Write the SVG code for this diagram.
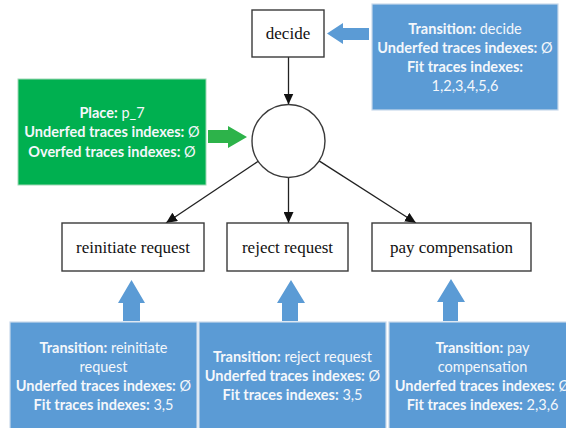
<svg xmlns="http://www.w3.org/2000/svg" width="566" height="428" viewBox="0 0 566 428">
<defs>
<style>
.bg{fill:#ffffff}
.tr{fill:#ffffff;stroke:#3a3a3a;stroke-width:1.4}
.pl{fill:#ffffff;stroke:#3a3a3a;stroke-width:1.4}
.gt{font-family:"Liberation Serif","Times New Roman",serif;font-size:17px;fill:#111;text-anchor:middle}
.edge{stroke:#222;stroke-width:1.3;fill:none}
.ah{fill:#111}
.bbox{fill:#5B9BD5;stroke:#c9d9ec;stroke-width:1.2}
.gbox{fill:#00B050;stroke:#9fd8b5;stroke-width:1}
.barrow{fill:#5B9BD5}
.garrow{fill:#2DB34A}
.nt{font-family:Lato,"Open Sans","Liberation Sans",sans-serif;font-size:14.5px;fill:#f4f7fb;text-anchor:middle}
.b{font-weight:bold}
</style>
<marker id="arr" markerWidth="12" markerHeight="10" refX="11" refY="5" orient="auto" markerUnits="userSpaceOnUse">
<path d="M0,0 L11,5 L0,10 Z" class="ah"/>
</marker>
</defs>
<rect class="bg" x="0" y="0" width="566" height="428"/>

<g id="connectors">
<line class="edge" x1="288.5" y1="57" x2="288.5" y2="104.5" marker-end="url(#arr)"/>
<line class="edge" x1="258.2" y1="161.3" x2="166" y2="223" marker-end="url(#arr)"/>
<line class="edge" x1="288.5" y1="177.5" x2="288.5" y2="223" marker-end="url(#arr)"/>
<line class="edge" x1="319.1" y1="160.9" x2="416" y2="223" marker-end="url(#arr)"/>
</g>

<g id="decide">
<rect class="tr" x="252" y="10" width="72" height="47"/>
<text class="gt" x="288" y="39">decide</text>
</g>
<g id="p_7">
<circle class="pl" cx="288.5" cy="141" r="36.5"/>
</g>
<g id="reinitiate_request">
<rect class="tr" x="62" y="223" width="142" height="48"/>
<text class="gt" x="133" y="252.5">reinitiate request</text>
</g>
<g id="reject_request">
<rect class="tr" x="227" y="223" width="121" height="48"/>
<text class="gt" x="287.5" y="252.5">reject request</text>
</g>
<g id="pay_compensation">
<rect class="tr" x="372" y="223" width="159" height="48"/>
<text class="gt" x="451.5" y="252.5">pay compensation</text>
</g>

<g id="note_decide">
<rect class="bbox" x="372" y="4" width="186" height="106"/>
<polygon class="barrow" points="369,28 343,28 343,23 327,33.5 343,44 343,40 369,40"/>
<text class="nt" x="465" y="34"><tspan class="b">Transition:</tspan> decide</text>
<text class="nt" x="465" y="53"><tspan class="b">Underfed traces indexes:</tspan> Ø</text>
<text class="nt b" x="465" y="72">Fit traces indexes:</text>
<text class="nt" x="465" y="91">1,2,3,4,5,6</text>
</g>

<g id="note_p_7">
<rect class="gbox" x="18" y="79" width="188" height="106"/>
<polygon class="garrow" points="208,130 228,130 228,126 247,137 228,148 228,143 208,143"/>
<text class="nt" x="112" y="118"><tspan class="b">Place:</tspan> p_7</text>
<text class="nt" x="112" y="137"><tspan class="b">Underfed traces indexes:</tspan> Ø</text>
<text class="nt" x="112" y="157"><tspan class="b">Overfed traces indexes:</tspan> Ø</text>
</g>

<g id="note_reinitiate">
<polygon class="barrow" points="131.5,280 145,303 140,303 140,321 123,321 123,303 118,303"/>
<rect class="bbox" x="10" y="322" width="187" height="110"/>
<text class="nt" x="103.5" y="353"><tspan class="b">Transition:</tspan> reinitiate</text>
<text class="nt" x="103.5" y="372">request</text>
<text class="nt" x="103.5" y="391"><tspan class="b">Underfed traces indexes:</tspan> Ø</text>
<text class="nt" x="103.5" y="410"><tspan class="b">Fit traces indexes:</tspan> 3,5</text>
</g>

<g id="note_reject">
<polygon class="barrow" points="291,280 305,303 298,303 298,321 282,321 282,303 277,303"/>
<rect class="bbox" x="199" y="322" width="187" height="110"/>
<text class="nt" x="292.5" y="362"><tspan class="b">Transition:</tspan> reject request</text>
<text class="nt" x="292.5" y="381"><tspan class="b">Underfed traces indexes:</tspan> Ø</text>
<text class="nt" x="292.5" y="400"><tspan class="b">Fit traces indexes:</tspan> 3,5</text>
</g>

<g id="note_pay">
<polygon class="barrow" points="451,279 465,302 458,302 458,321 443,321 443,302 437,302"/>
<rect class="bbox" x="389" y="322" width="188" height="110"/>
<text class="nt" x="482.5" y="353"><tspan class="b">Transition:</tspan> pay</text>
<text class="nt" x="482.5" y="372">compensation</text>
<text class="nt" x="482.5" y="391"><tspan class="b">Underfed traces indexes:</tspan> Ø</text>
<text class="nt" x="482.5" y="410"><tspan class="b">Fit traces indexes:</tspan> 2,3,6</text>
</g>
</svg>
